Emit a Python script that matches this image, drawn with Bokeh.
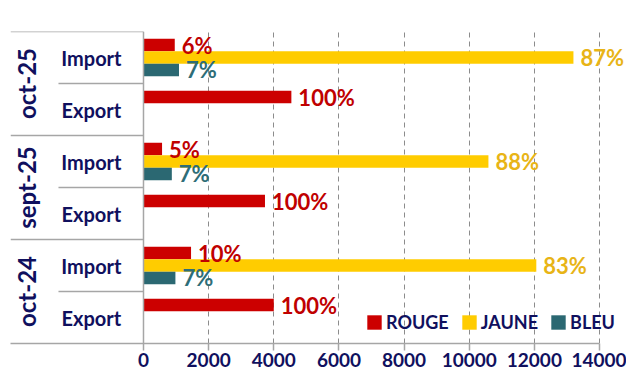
import math
from bokeh.plotting import figure
from bokeh.models import FactorRange, ColumnDataSource, FixedTicker, Span, Legend, LegendItem
from bokeh.transform import dodge
from bokeh.core.properties import value
from bokeh.embed import file_html
from bokeh.resources import INLINE

# ---------------- data ----------------
periods = ["oct-25", "sept-25", "oct-24"]
flows = ["Import", "Export"]
series = ["ROUGE", "JAUNE", "BLEU"]
# rows: oct-25 Import, oct-25 Export, sept-25 Import, sept-25 Export, oct-24 Import, oct-24 Export
rouge = [960, 4540, 570, 3730, 1460, 4000]
jaune = [13200, 0, 10590, 0, 12060, 0]
bleu = [1090, 0, 870, 0, 980, 0]
rouge_pct = ["6%", "100%", "5%", "100%", "10%", "100%"]
jaune_pct = ["87%", "", "88%", "", "83%", ""]
bleu_pct = ["7%", "", "7%", "", "7%", ""]
x_ticks = [0, 2000, 4000, 6000, 8000, 10000, 12000, 14000]

# ---------------- style ----------------
NAVY = "#10105E"
GREY = "#A6A6A6"
GRID = "#8C8C8C"
BAR_COLORS = ["#CC0000", "#FFCC00", "#2B6872"]
TXT_COLORS = ["#C00000", "#E8B416", "#2E6D77"]
FONT = "Lato"
X_LEFT = -4083     # left edge of the table area (data units)
X_RIGHT = 14829    # right edge of the frame
SUB_X = -2610      # start of the sub-level separators
FLOW_X = -1600     # centre of Import/Export labels
GROUP_X = -3600    # centre of rotated period labels
OFF = 0.24
BAR_H = 0.24

rows = [(pp, f) for pp in periods for f in flows]  # top to bottom
factors = rows[::-1]

p = figure(width=626, height=374,
           y_range=FactorRange(*factors, factor_padding=0, group_padding=0, range_padding=0),
           x_range=(X_LEFT, X_RIGHT),
           output_backend="svg", toolbar_location=None,
           min_border_left=10, min_border_right=0, min_border_top=31, min_border_bottom=31)
p.outline_line_color = None
p.yaxis.visible = False
p.ygrid.visible = False

p.xgrid.ticker = FixedTicker(ticks=x_ticks[1:])
p.xgrid.grid_line_color = GRID
p.xgrid.grid_line_dash = "5 4"
p.xgrid.grid_line_width = 1

ax = p.xaxis[0]
ax.ticker = FixedTicker(ticks=x_ticks)
ax.bounds = (X_LEFT, x_ticks[-1])
ax.axis_line_color = GREY
ax.axis_line_width = 1.5
ax.major_tick_line_color = GREY
ax.major_tick_line_width = 1.5
ax.major_tick_in = 0
ax.major_tick_out = 7
ax.minor_tick_line_color = None
ax.major_label_standoff = 2
ax.major_label_text_font = FONT
ax.major_label_text_font_size = "19px"
ax.major_label_text_font_style = "bold"
ax.major_label_text_color = NAVY

src = ColumnDataSource(dict(row=rows, ROUGE=rouge, JAUNE=jaune, BLEU=bleu,
                            ROUGE_pct=rouge_pct, JAUNE_pct=jaune_pct, BLEU_pct=bleu_pct,
                            flow=[f for (_, f) in rows]))

# table lines
sep_src = ColumnDataSource(dict(row=rows, x0=[X_LEFT if f == "Import" else SUB_X for (_, f) in rows]))
p.segment(x0="x0", x1=0, y0=dodge("row", 0.5, range=p.y_range), y1=dodge("row", 0.5, range=p.y_range),
          source=sep_src, line_color=GREY, line_width=1.5)
p.add_layout(Span(location=0, dimension="height", line_color=GREY, line_width=1.5))

offsets = [OFF, 0, -OFF]
items = []
for s, offs, bc in zip(series, offsets, BAR_COLORS):
    r = p.hbar(y=dodge("row", offs, range=p.y_range), left=0, right=s, height=BAR_H, source=src,
               fill_color=bc, line_color=None)
    items.append(LegendItem(label=s, renderers=[r]))
for s, offs, tc in zip(series, offsets, TXT_COLORS):
    p.text(x=s, y=dodge("row", offs, range=p.y_range), text=s + "_pct", source=src, x_offset=7,
           text_baseline="middle", text_align="left", text_color=tc, text_font=value(FONT),
           text_font_size="22px", text_font_style="bold")

# category labels
p.text(x=FLOW_X, y="row", text="flow", source=src,
       text_align="center", text_baseline="middle", text_color=NAVY, text_font=value(FONT),
       text_font_size="20px", text_font_style="bold")
grp_src = ColumnDataSource(dict(row=[(pp, "Import") for pp in periods], label=periods))
p.text(x=GROUP_X, y=dodge("row", -0.5, range=p.y_range), text="label", source=grp_src,
       angle=math.pi / 2, text_align="center", text_baseline="middle", text_color=NAVY,
       text_font=value(FONT), text_font_size="24px", text_font_style="bold")

legend = Legend(items=items, orientation="horizontal", location=(355, 10),
                background_fill_alpha=0, border_line_color=None, glyph_width=18, glyph_height=18,
                label_standoff=3, spacing=11, padding=0, margin=0,
                label_text_font=FONT, label_text_font_size="18px", label_text_font_style="bold",
                label_text_color=NAVY)
p.add_layout(legend)

open("out.html", "w").write(file_html(p, INLINE))
